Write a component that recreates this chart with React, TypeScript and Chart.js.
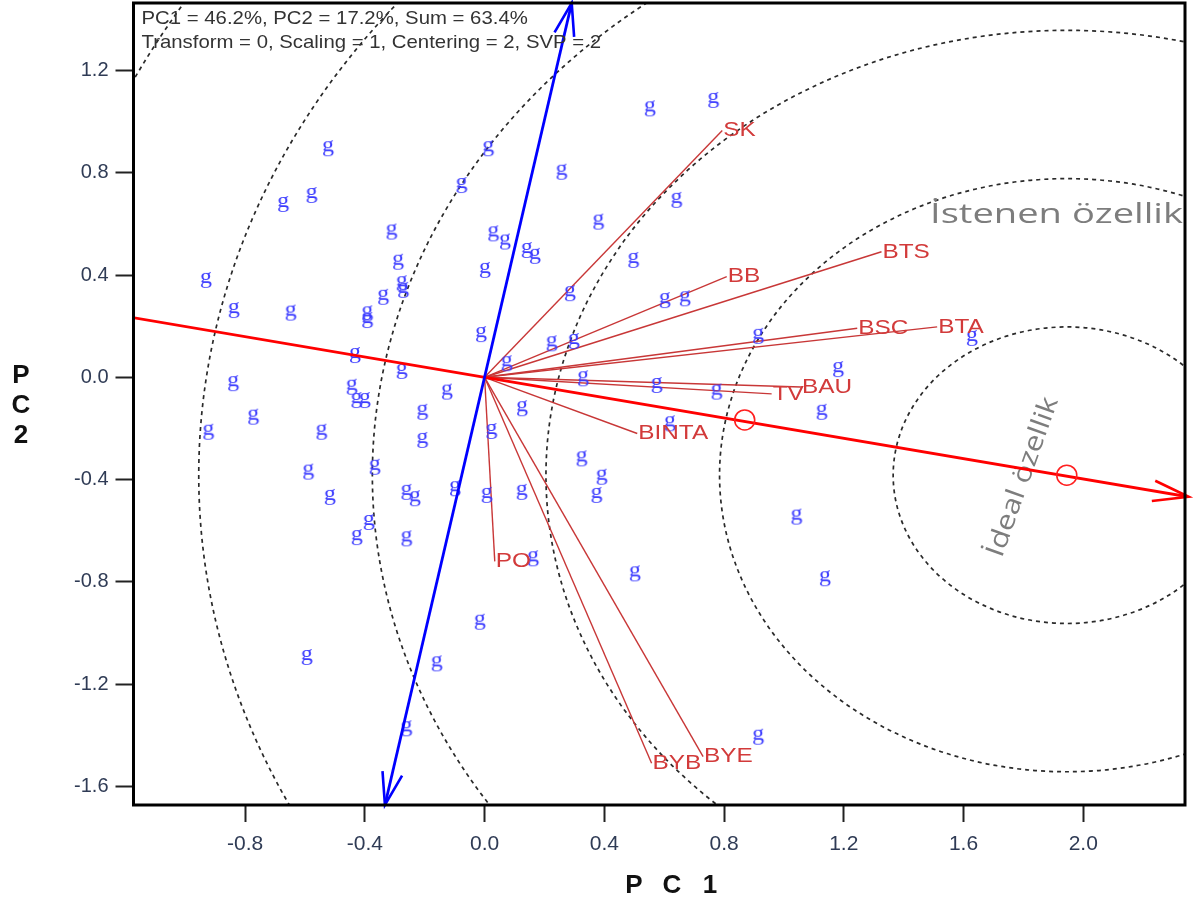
import React, { useEffect, useRef } from 'react';
import { Chart, registerables } from 'chart.js';

Chart.register(...registerables);

// ---- axis ticks ----
const xTickValues = [-0.8, -0.4, 0.0, 0.4, 0.8, 1.2, 1.6, 2.0];
const yTickValues = [-1.6, -1.2, -0.8, -0.4, 0.0, 0.4, 0.8, 1.2];
const xRange = [-1.173, 2.34];
const yRange = [-1.673, 1.464];

// ---- genotype scores (marked "g") ----
const genotypeX = [
  0.764, 0.552, -0.523, 0.012, 0.257, -0.578, -0.673, -0.077, 0.641, 0.380,
  -0.311, 0.029, 0.068, 0.141, 0.168, 0.497, -0.289, 0.001, -0.931, -0.277,
  -0.272, -0.339, 0.285, 0.602, 0.669, -0.838, -0.648, -0.392, -0.392, -0.012,
  0.224, 0.298, 0.914, 1.628, -0.433, -0.277, 0.074, 1.181, -0.840, -0.444,
  -0.428, -0.400, -0.126, 0.329, 0.575, 0.775, -0.773, -0.208, 0.125, 1.126,
  -0.923, -0.545, 0.023, -0.208, 0.619, -0.367, -0.589, 0.324, 0.391, -0.099,
  -0.261, -0.233, 0.007, 0.124, 0.374, -0.517, -0.387, -0.427, -0.261, 1.042,
  0.162, 0.502, 1.137, -0.016, -0.594, -0.160, -0.261, 0.914,
];
const genotypeY = [
  1.085, 1.052, 0.896, 0.896, 0.804, 0.713, 0.678, 0.752, 0.694, 0.609,
  0.570, 0.563, 0.531, 0.498, 0.475, 0.459, 0.452, 0.420, 0.381, 0.368,
  0.342, 0.315, 0.329, 0.302, 0.309, 0.263, 0.253, 0.250, 0.224, 0.169,
  0.133, 0.142, 0.162, 0.154, 0.087, 0.025, 0.055, 0.032, -0.023, -0.037,
  -0.089, -0.089, -0.056, -0.004, -0.030, -0.056, -0.154, -0.135, -0.121, -0.135,
  -0.213, -0.213, -0.210, -0.245, -0.180, -0.350, -0.369, -0.317, -0.389, -0.434,
  -0.448, -0.473, -0.460, -0.448, -0.460, -0.468, -0.566, -0.625, -0.630, -0.545,
  -0.708, -0.767, -0.786, -0.956, -1.094, -1.119, -1.373, -1.406,
];

// ---- trait vectors ----
const traitNames = ['SK', 'BB', 'BTS', 'BSC', 'BTA', 'BAU', 'TV', 'BINTA', 'PO', 'BYB', 'BYE'];
const traitX = [0.794, 0.809, 1.326, 1.245, 1.512, 1.057, 0.959, 0.510, 0.034, 0.558, 0.730];
const traitY = [0.965, 0.394, 0.491, 0.192, 0.197, -0.038, -0.065, -0.220, -0.720, -1.510, -1.484];

// ---- average environment axes ----
const aeaAxisX = [-1.18, 2.352];
const aeaAxisY = [0.2346, -0.4676];
const atcAxisX = [-0.333, 0.291];
const atcAxisY = [-1.673, 1.464];

// ---- ideal point markers & concentric circles ----
const idealMarkerX = [0.869, 1.945];
const idealMarkerY = [-0.167, -0.383];
const circleCenterX = 1.945;
const circleCenterY = -0.383;
const circleRadii = [0.58, 1.16, 1.74, 2.32, 2.9, 3.48];

const headerLines = [
  'PC1 = 46.2%, PC2 = 17.2%, Sum = 63.4%',
  'Transform = 0, Scaling = 1, Centering = 2, SVP = 2',
];
const desiredLabel = 'İstenen özellik';
const idealLabel = 'İdeal özellik';

function stretchText(ctx: CanvasRenderingContext2D, text: string, x: number, y: number, sx: number) {
  ctx.save();
  ctx.translate(x, y);
  ctx.scale(sx, 1);
  ctx.fillText(text, 0, 0);
  ctx.restore();
}

function arrowHead(ctx: CanvasRenderingContext2D, tx: number, ty: number, fx: number, fy: number, len: number, ang: number) {
  const a = Math.atan2(fy - ty, fx - tx);
  ctx.beginPath();
  ctx.moveTo(tx + len * Math.cos(a + ang), ty + len * Math.sin(a + ang));
  ctx.lineTo(tx, ty);
  ctx.lineTo(tx + len * Math.cos(a - ang), ty + len * Math.sin(a - ang));
  ctx.stroke();
}

const zeroPad = (s: any) => { s.paddingTop = 0; s.paddingBottom = 0; s.paddingLeft = 0; s.paddingRight = 0; };

const overlay = {
  id: 'overlay',
  beforeDatasetsDraw(chart: any) {
    const { ctx, chartArea: a, scales } = chart;
    const x = scales.x, y = scales.y;
    ctx.save();
    ctx.beginPath();
    ctx.rect(a.left, a.top, a.right - a.left, a.bottom - a.top);
    ctx.clip();
    ctx.setLineDash([4, 4]);
    ctx.strokeStyle = '#2a2a2a';
    ctx.lineWidth = 1.7;
    const cx = x.getPixelForValue(circleCenterX);
    const cy = y.getPixelForValue(circleCenterY);
    circleRadii.forEach((r) => {
      const rx = Math.abs(x.getPixelForValue(circleCenterX + r) - cx);
      const ry = Math.abs(y.getPixelForValue(circleCenterY + r) - cy);
      ctx.beginPath();
      ctx.ellipse(cx, cy, rx, ry, 0, 0, Math.PI * 2);
      ctx.stroke();
    });
    ctx.setLineDash([]);

    // gray annotations
    ctx.fillStyle = '#7d7d7d';
    ctx.font = '27px "Open Sans"';
    ctx.textAlign = 'left';
    ctx.textBaseline = 'middle';
    const w1 = ctx.measureText(desiredLabel).width;
    stretchText(ctx, desiredLabel, 930, 215, 253 / w1);

    ctx.font = '26px "Open Sans"';
    const w2 = ctx.measureText(idealLabel).width;
    ctx.save();
    ctx.translate(1023, 477);
    ctx.rotate((-70.4 * Math.PI) / 180);
    ctx.scale(168 / w2, 1);
    ctx.textAlign = 'center';
    ctx.fillText(idealLabel, 0, 0);
    ctx.restore();
    ctx.restore();
  },
  afterDatasetsDraw(chart: any) {
    const { ctx, chartArea: a, scales } = chart;
    const x = scales.x, y = scales.y;
    ctx.save();
    // arrowheads
    ctx.lineWidth = 2.6;
    ctx.strokeStyle = '#ff0000';
    arrowHead(ctx,
      x.getPixelForValue(aeaAxisX[1]), y.getPixelForValue(aeaAxisY[1]),
      x.getPixelForValue(aeaAxisX[0]), y.getPixelForValue(aeaAxisY[0]), 37, 0.28);
    ctx.strokeStyle = '#0000ff';
    arrowHead(ctx,
      x.getPixelForValue(atcAxisX[1]), y.getPixelForValue(atcAxisY[1]),
      x.getPixelForValue(atcAxisX[0]), y.getPixelForValue(atcAxisY[0]), 34, 0.3);
    arrowHead(ctx,
      x.getPixelForValue(atcAxisX[0]), y.getPixelForValue(atcAxisY[0]),
      x.getPixelForValue(atcAxisX[1]), y.getPixelForValue(atcAxisY[1]), 34, 0.3);

    // trait labels
    ctx.fillStyle = '#d23a3a';
    ctx.font = '21px "Liberation Sans"';
    ctx.textAlign = 'left';
    ctx.textBaseline = 'middle';
    traitNames.forEach((n, i) => {
      stretchText(ctx, n, x.getPixelForValue(traitX[i]) + 1, y.getPixelForValue(traitY[i]), 1.16);
    });

    // header text
    ctx.fillStyle = '#333333';
    ctx.font = '18.5px "Liberation Sans"';
    headerLines.forEach((t, i) => stretchText(ctx, t, a.left + 8, a.top + 16 + i * 24, 1.1));

    // frame
    ctx.strokeStyle = '#000';
    ctx.lineWidth = 3;
    ctx.strokeRect(a.left, a.top, a.right - a.left, a.bottom - a.top);
    ctx.restore();
  },
  afterDraw(chart: any) {
    const { ctx } = chart;
    ctx.save();
    ctx.fillStyle = '#111';
    ctx.font = 'bold 26px "Liberation Sans"';
    ctx.textAlign = 'center';
    ctx.textBaseline = 'middle';
    ['P', 'C', '2'].forEach((c, i) => ctx.fillText(c, 21, 376 + i * 30));
    ['P', 'C', '1'].forEach((c, i) => ctx.fillText(c, 634 + i * 38, 886));
    ctx.restore();
  },
};

export default function App() {
  const ref = useRef<HTMLCanvasElement>(null);
  useEffect(() => {
    const canvas = ref.current!;
    const gImg = document.createElement('canvas');
    gImg.width = 18;
    gImg.height = 24;
    const g = gImg.getContext('2d')!;
    g.fillStyle = '#3a3aff';
    g.font = '20px "Liberation Serif"';
    g.textAlign = 'center';
    g.textBaseline = 'alphabetic';
    g.save();
    g.translate(9, 14.5);
    g.scale(1.2, 1);
    g.fillText('g', 0, 0);
    g.restore();

    const genotypes = genotypeX.map((v, i) => ({ x: v, y: genotypeY[i] }));
    const traitSets = traitNames.map((name, i) => ({
      label: name,
      data: [{ x: 0, y: 0 }, { x: traitX[i], y: traitY[i] }],
      showLine: true,
      borderColor: '#c83737',
      borderWidth: 1.4,
      pointRadius: 0,
      order: 5,
    }));

    const chart = new Chart(canvas, {
      type: 'scatter',
      data: {
        datasets: [
          ...traitSets,
          {
            label: 'genotypes',
            data: genotypes,
            pointStyle: gImg as any,
            pointRadius: 8,
            order: 4,
          },
          {
            label: 'AEA',
            data: aeaAxisX.map((v, i) => ({ x: v, y: aeaAxisY[i] })),
            showLine: true,
            borderColor: '#ff0000',
            borderWidth: 2.8,
            pointRadius: 0,
            order: 3,
          },
          {
            label: 'ATC',
            data: atcAxisX.map((v, i) => ({ x: v, y: atcAxisY[i] })),
            showLine: true,
            borderColor: '#0000ff',
            borderWidth: 2.8,
            pointRadius: 0,
            order: 2,
          },
          {
            label: 'ideal',
            data: idealMarkerX.map((v, i) => ({ x: v, y: idealMarkerY[i] })),
            pointStyle: 'circle',
            pointRadius: 10,
            borderColor: '#ff2020',
            borderWidth: 1.6,
            backgroundColor: 'rgba(0,0,0,0)',
            order: 1,
          },
        ] as any,
      },
      options: {
        responsive: false,
        animation: false,
        events: [],
        layout: { autoPadding: false, padding: { top: 3, right: 9, left: 0, bottom: 0 } },
        plugins: { legend: { display: false }, tooltip: { enabled: false }, title: { display: false } },
        scales: {
          x: {
            type: 'linear',
            min: xRange[0],
            max: xRange[1],
            afterFit: (s: any) => { s.height = 102; zeroPad(s); },
            afterBuildTicks: (s: any) => { s.ticks = xTickValues.map((v) => ({ value: v })); },
            ticks: {
              autoSkip: false,
              maxRotation: 0,
              padding: 10,
              color: '#2f3b55',
              font: { family: '"Liberation Sans"', size: 21 },
              callback: (v: any) => Number(v).toFixed(1),
            },
            grid: { drawOnChartArea: false, tickLength: 17, tickColor: '#222', tickWidth: 2 },
            border: { display: false },
          },
          y: {
            type: 'linear',
            min: yRange[0],
            max: yRange[1],
            afterFit: (s: any) => { s.width = 133.5; zeroPad(s); },
            afterBuildTicks: (s: any) => { s.ticks = yTickValues.map((v) => ({ value: v })); },
            ticks: {
              autoSkip: false,
              padding: 7,
              color: '#2f3b55',
              font: { family: '"Liberation Sans"', size: 20 },
              callback: (v: any) => Number(v).toFixed(1),
            },
            grid: { drawOnChartArea: false, tickLength: 18, tickColor: '#222', tickWidth: 2 },
            border: { display: false },
          },
        },
      } as any,
      plugins: [overlay],
    });
    return () => chart.destroy();
  }, []);
  return (
    <div style={{ position: 'fixed', left: 0, top: 0, width: 1194, height: 907, background: '#fff' }}>
      <canvas ref={ref} width={1194} height={907} style={{ display: 'block' }} />
    </div>
  );
}
